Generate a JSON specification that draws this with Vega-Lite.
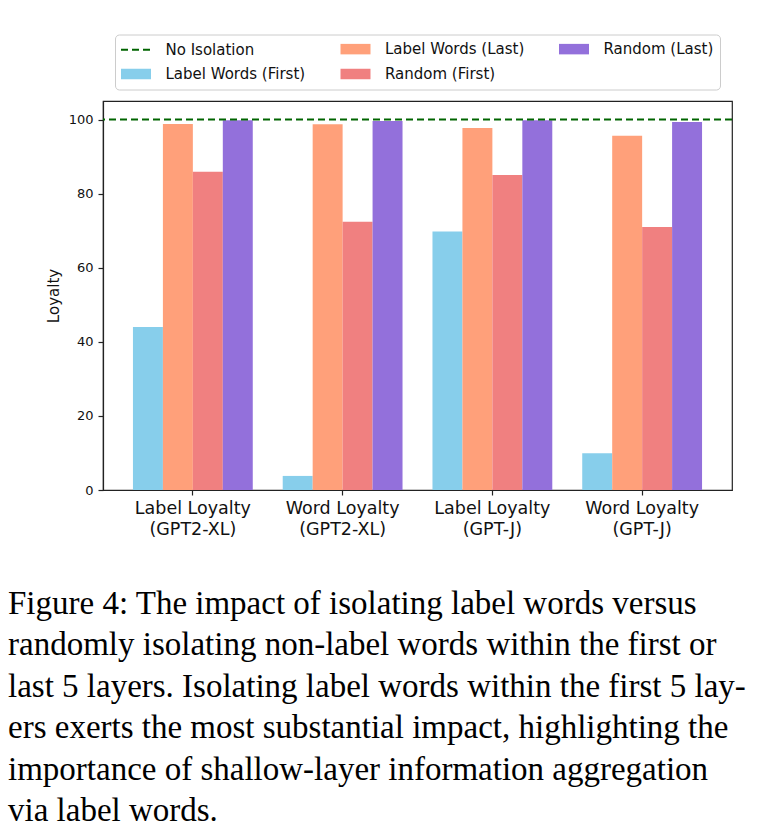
{
  "$schema": "https://vega.github.io/schema/vega-lite/v6.json",
  "width": 629,
  "height": 389,
  "autosize": {"type": "none"},
  "padding": {"left": 103, "top": 101, "right": 46, "bottom": 342},
  "background": "white",
  "config": {
    "font": "DejaVu Sans",
    "view": {"stroke": "#222", "strokeWidth": 1.2},
    "axis": {
      "grid": false,
      "domainColor": "#222",
      "domainWidth": 1.2,
      "tickColor": "#222",
      "tickWidth": 1.2,
      "tickSize": 5,
      "labelColor": "#111",
      "titleColor": "#111",
      "titleFontWeight": "normal"
    }
  },
  "title": {
    "text": [
      "Figure 4: The impact of isolating label words versus",
      "randomly isolating non-label words within the first or",
      "last 5 layers. Isolating label words within the first 5 lay-",
      "ers exerts the most substantial impact, highlighting the",
      "importance of shallow-layer information aggregation",
      "via label words."
    ],
    "orient": "bottom",
    "anchor": "start",
    "frame": "group",
    "font": "Liberation Serif",
    "fontSize": 33,
    "fontWeight": "normal",
    "color": "#000",
    "lineHeight": 41.5,
    "baseline": "top",
    "offset": 50,
    "dx": -95
  },
  "layer": [
    {
      "data": {
        "values": [
          {"group": "Label Loyalty (GPT2-XL)", "series": "Label Words (First)", "value": 44.0},
          {"group": "Label Loyalty (GPT2-XL)", "series": "Label Words (Last)", "value": 98.8},
          {"group": "Label Loyalty (GPT2-XL)", "series": "Random (First)", "value": 85.9},
          {"group": "Label Loyalty (GPT2-XL)", "series": "Random (Last)", "value": 99.8},
          {"group": "Word Loyalty (GPT2-XL)", "series": "Label Words (First)", "value": 3.8},
          {"group": "Word Loyalty (GPT2-XL)", "series": "Label Words (Last)", "value": 98.7},
          {"group": "Word Loyalty (GPT2-XL)", "series": "Random (First)", "value": 72.4},
          {"group": "Word Loyalty (GPT2-XL)", "series": "Random (Last)", "value": 99.6},
          {"group": "Label Loyalty (GPT-J)", "series": "Label Words (First)", "value": 69.8},
          {"group": "Label Loyalty (GPT-J)", "series": "Label Words (Last)", "value": 97.7},
          {"group": "Label Loyalty (GPT-J)", "series": "Random (First)", "value": 85.0},
          {"group": "Label Loyalty (GPT-J)", "series": "Random (Last)", "value": 99.8},
          {"group": "Word Loyalty (GPT-J)", "series": "Label Words (First)", "value": 9.9},
          {"group": "Word Loyalty (GPT-J)", "series": "Label Words (Last)", "value": 95.6},
          {"group": "Word Loyalty (GPT-J)", "series": "Random (First)", "value": 71.0},
          {"group": "Word Loyalty (GPT-J)", "series": "Random (Last)", "value": 99.3}
        ]
      },
      "mark": {"type": "bar"},
      "encoding": {
        "x": {
          "field": "group",
          "type": "nominal",
          "sort": null,
          "scale": {"paddingInner": 0.2, "paddingOuter": 0.2},
          "axis": {
            "title": null,
            "labelAngle": 0,
            "labelFontSize": 17.5,
            "labelLineHeight": 21,
            "labelPadding": 4,
            "labelLimit": 300,
            "labelExpr": "[substring(datum.label, 0, indexof(datum.label, ' (')), substring(datum.label, indexof(datum.label, ' (') + 1)]"
          }
        },
        "xOffset": {
          "field": "series",
          "type": "nominal",
          "scale": {
            "domain": ["Label Words (First)", "Label Words (Last)", "Random (First)", "Random (Last)"],
            "paddingInner": 0,
            "paddingOuter": 0
          }
        },
        "y": {
          "field": "value",
          "type": "quantitative",
          "scale": {"domain": [0, 105], "nice": false},
          "axis": {
            "title": "Loyalty",
            "values": [0, 20, 40, 60, 80, 100],
            "labelFontSize": 13,
            "labelPadding": 5,
            "titleFontSize": 15,
            "titlePadding": 7
          }
        },
        "color": {
          "field": "series",
          "type": "nominal",
          "scale": {
            "domain": ["No Isolation", "Label Words (First)", "Label Words (Last)", "Random (First)", "Random (Last)"],
            "range": ["#006400", "#87CEEB", "#FFA07A", "#F08080", "#9370DB"]
          },
          "legend": {
            "title": null,
            "orient": "none",
            "legendX": 12,
            "legendY": -66.5,
            "columns": 3,
            "labelFontSize": 15,
            "labelColor": "#111",
            "symbolSize": 225,
            "symbolType": {"expr": "datum.value === 'No Isolation' ? 'M-2,0H2' : 'M-2,-0.7H2V0.7H-2Z'"},
            "symbolStrokeColor": {"expr": "datum.value === 'No Isolation' ? '#006400' : 'transparent'"},
            "symbolDash": {"expr": "datum.value === 'No Isolation' ? [7,4] : [1,0]"},
            "symbolStrokeWidth": 2,
            "symbolOpacity": 1,
            "symbolOffset": 6.5,
            "labelOffset": 21,
            "columnPadding": 30.5,
            "rowPadding": 6,
            "padding": 6,
            "strokeColor": "#cccccc",
            "fillColor": "white",
            "cornerRadius": 4
          }
        }
      }
    },
    {
      "data": {"values": [{"series": "No Isolation", "value": 100}]},
      "mark": {"type": "rule", "stroke": "#006400", "strokeWidth": 2, "strokeDash": [7, 4]},
      "encoding": {"y": {"field": "value", "type": "quantitative"}}
    }
  ]
}
